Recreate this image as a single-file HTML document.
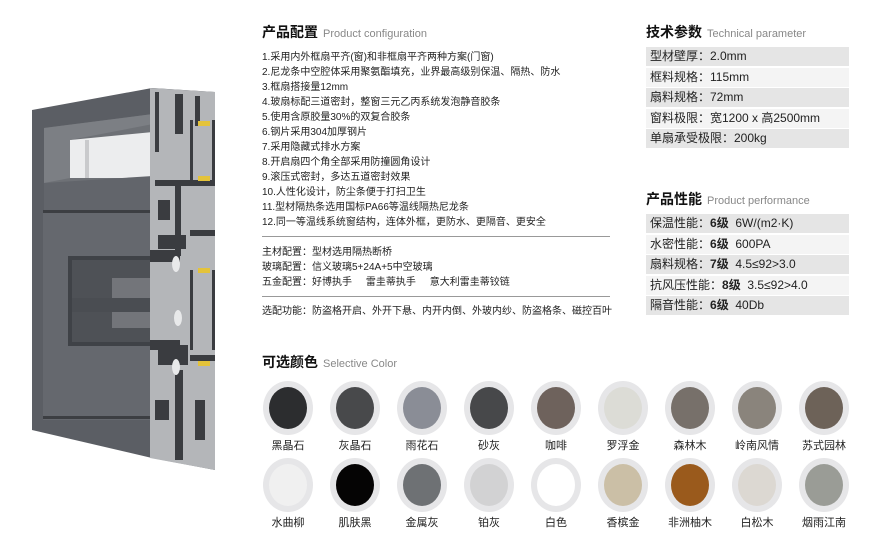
<!DOCTYPE html>
<html><head><meta charset="utf-8"><style>
body{margin:0;width:895px;height:535px;background:#fff;position:relative;overflow:hidden;font-family:"Liberation Sans","Noto Sans CJK SC",sans-serif;color:#222}
.a{position:absolute;white-space:nowrap}
.h{font-size:14px;font-weight:bold;color:#111}
.h span{font-size:11px;font-weight:normal;color:#888;margin-left:5px}
.l{font-size:10px;line-height:15px}
.sep{position:absolute;height:1px;background:#999}
.row{position:absolute;left:646px;width:203px;height:19px;font-size:12px;line-height:19px;padding-left:4px;box-sizing:border-box}
.g{background:#e5e5e5}.w{background:#f4f4f4}
.c{position:absolute;width:50px;height:54px;border-radius:50%;background:#e6e6e8}
.c i{position:absolute;left:6px;top:6px;width:38px;height:42px;border-radius:50%}
.t{position:absolute;width:80px;text-align:center;font-size:11px}
</style></head><body>
<svg class="a" style="left:0;top:0" width="250" height="535" viewBox="0 0 250 535">
<polygon points="32,110 152,88 215,92 215,470 152,458 32,430" fill="#5b5e64"/>
<polygon points="44,128 153,114 153,183 44,183" fill="#6e7176"/>
<polygon points="70,140 153,132 153,178 70,178" fill="#ecedee"/>
<polygon points="44,128 153,114 153,124 70,140 70,178 44,183" fill="#7c7f84"/>
<rect x="85" y="140" width="4" height="38" fill="#c9cacc"/>
<polygon points="44,183 153,176 153,212 44,212" fill="#62656b"/>
<polygon points="43,212 153,210 153,420 43,420" fill="#65686e"/>
<rect x="43" y="210" width="110" height="3" fill="#3c3e42"/>
<rect x="43" y="416" width="110" height="3" fill="#3c3e42"/>
<rect x="68" y="256" width="90" height="90" fill="#3f4247"/>
<rect x="72" y="260" width="86" height="82" fill="#55585d" opacity=".7"/>
<rect x="112" y="278" width="40" height="50" fill="#8c8e92" opacity=".6"/>
<rect x="72" y="298" width="110" height="14" fill="#4a4d52"/>
<polygon points="150,88 215,92 215,470 150,458" fill="#b4b6b9"/>
<g fill="#3a3c40">
<rect x="155" y="92" width="4" height="60"/><rect x="175" y="94" width="8" height="40"/><rect x="195" y="96" width="5" height="30"/>
<rect x="190" y="120" width="3" height="60"/><rect x="212" y="120" width="3" height="60"/>
<rect x="155" y="180" width="60" height="6"/><rect x="175" y="186" width="6" height="70"/><rect x="158" y="200" width="12" height="20"/>
<rect x="190" y="230" width="25" height="6"/><rect x="158" y="235" width="28" height="14"/><rect x="190" y="270" width="3" height="80"/><rect x="212" y="270" width="3" height="80"/>
<rect x="158" y="345" width="30" height="20"/><rect x="190" y="355" width="25" height="6"/><rect x="175" y="370" width="8" height="90"/><rect x="155" y="400" width="14" height="20"/><rect x="195" y="400" width="10" height="40"/>
<rect x="150" y="250" width="30" height="12"/><rect x="150" y="340" width="30" height="10"/>
</g>
<g fill="#e4c33a"><rect x="198" y="121" width="12" height="5"/><rect x="198" y="176" width="12" height="5"/><rect x="198" y="268" width="12" height="5"/><rect x="198" y="361" width="12" height="5"/></g>
<g fill="#e8e9ea"><ellipse cx="176" cy="264" rx="4" ry="8"/><ellipse cx="178" cy="318" rx="4" ry="8"/><ellipse cx="176" cy="367" rx="4" ry="8"/></g>
</svg>

<div class="a h" style="left:262px;top:22px">产品配置<span>Product configuration</span></div>
<div class="a l" style="left:262px;top:50px">1.采用内外框扇平齐(窗)和非框扇平齐两种方案(门窗)<br>2.尼龙条中空腔体采用聚氨酯填充，业界最高级别保温、隔热、防水<br>3.框扇搭接量12mm<br>4.玻扇标配三道密封，整窗三元乙丙系统发泡静音胶条<br>5.使用含原胶量30%的双复合胶条<br>6.钢片采用304加厚钢片<br>7.采用隐藏式排水方案<br>8.开启扇四个角全部采用防撞圆角设计<br>9.滚压式密封，多达五道密封效果<br>10.人性化设计，防尘条便于打扫卫生<br>11.型材隔热条选用国标PA66等温线隔热尼龙条<br>12.同一等温线系统窗结构，连体外框，更防水、更隔音、更安全</div>
<div class="sep" style="left:262px;top:236px;width:348px"></div>
<div class="a l" style="left:262px;top:245px">主材配置：型材选用隔热断桥<br>玻璃配置：信义玻璃5+24A+5中空玻璃<br>五金配置：好博执手&nbsp;&nbsp;&nbsp;&nbsp;&nbsp;雷圭蒂执手&nbsp;&nbsp;&nbsp;&nbsp;&nbsp;意大利雷圭蒂铰链</div>
<div class="sep" style="left:262px;top:296px;width:348px"></div>
<div class="a l" style="left:262px;top:304px">选配功能：防盗格开启、外开下悬、内开内倒、外玻内纱、防盗格条、磁控百叶</div>

<div class="a h" style="left:646px;top:22px">技术参数<span>Technical parameter</span></div>
<div class="row g" style="top:47px">型材壁厚：2.0mm</div>
<div class="row w" style="top:68px">框料规格：115mm</div>
<div class="row g" style="top:88px">扇料规格：72mm</div>
<div class="row w" style="top:109px">窗料极限：宽1200 x 高2500mm</div>
<div class="row g" style="top:129px">单扇承受极限：200kg</div>

<div class="a h" style="left:646px;top:189px">产品性能<span>Product performance</span></div>
<div class="row g" style="top:214px">保温性能：<b>6级</b>&nbsp; 6W/(m2·K)</div>
<div class="row w" style="top:235px">水密性能：<b>6级</b>&nbsp; 600PA</div>
<div class="row g" style="top:255px">扇料规格：<b>7级</b>&nbsp; 4.5≤92&gt;3.0</div>
<div class="row w" style="top:276px">抗风压性能：<b>8级</b>&nbsp; 3.5≤92&gt;4.0</div>
<div class="row g" style="top:296px">隔音性能：<b>6级</b>&nbsp; 40Db</div>

<div class="a h" style="left:262px;top:352px">可选颜色<span>Selective Color</span></div>

<div class="c" style="left:263px;top:381px"><i style="background:#2c2d2f"></i></div>
<div class="c" style="left:330px;top:381px"><i style="background:#48494b"></i></div>
<div class="c" style="left:397px;top:381px"><i style="background:#8a8d96"></i></div>
<div class="c" style="left:464px;top:381px"><i style="background:#47484a"></i></div>
<div class="c" style="left:531px;top:381px"><i style="background:#6e625c"></i></div>
<div class="c" style="left:598px;top:381px"><i style="background:#dcdcd6"></i></div>
<div class="c" style="left:665px;top:381px"><i style="background:#77706a"></i></div>
<div class="c" style="left:732px;top:381px"><i style="background:#8a847c"></i></div>
<div class="c" style="left:799px;top:381px"><i style="background:#6d6258"></i></div>
<div class="t" style="left:248px;top:437px">黑晶石</div><div class="t" style="left:315px;top:437px">灰晶石</div><div class="t" style="left:382px;top:437px">雨花石</div><div class="t" style="left:449px;top:437px">砂灰</div><div class="t" style="left:516px;top:437px">咖啡</div><div class="t" style="left:583px;top:437px">罗浮金</div><div class="t" style="left:650px;top:437px">森林木</div><div class="t" style="left:717px;top:437px">岭南风情</div><div class="t" style="left:784px;top:437px">苏式园林</div>

<div class="c" style="left:263px;top:458px"><i style="background:#f0f0f0"></i></div>
<div class="c" style="left:330px;top:458px"><i style="background:#050404"></i></div>
<div class="c" style="left:397px;top:458px"><i style="background:#6e7174"></i></div>
<div class="c" style="left:464px;top:458px"><i style="background:#d2d2d3"></i></div>
<div class="c" style="left:531px;top:458px"><i style="background:#fff"></i></div>
<div class="c" style="left:598px;top:458px"><i style="background:#cbbfa6"></i></div>
<div class="c" style="left:665px;top:458px"><i style="background:#9a5a1c"></i></div>
<div class="c" style="left:732px;top:458px"><i style="background:#dcd8d2"></i></div>
<div class="c" style="left:799px;top:458px"><i style="background:#9a9c96"></i></div>
<div class="t" style="left:248px;top:514px">水曲柳</div><div class="t" style="left:315px;top:514px">肌肤黑</div><div class="t" style="left:382px;top:514px">金属灰</div><div class="t" style="left:449px;top:514px">铂灰</div><div class="t" style="left:516px;top:514px">白色</div><div class="t" style="left:583px;top:514px">香槟金</div><div class="t" style="left:650px;top:514px">非洲柚木</div><div class="t" style="left:717px;top:514px">白松木</div><div class="t" style="left:784px;top:514px">烟雨江南</div>
</body></html>
